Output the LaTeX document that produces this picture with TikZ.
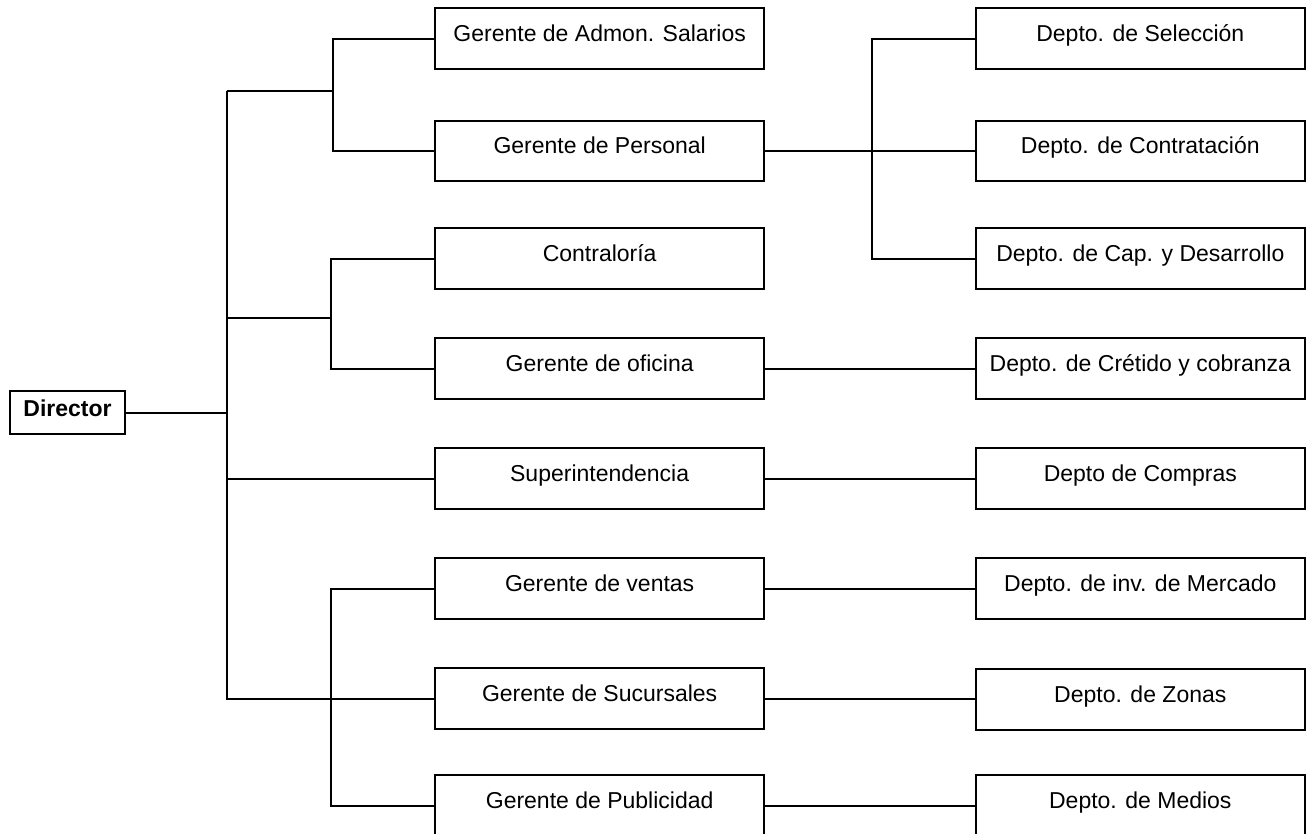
\documentclass[tikz,border=0pt]{standalone}
\usepackage{fontspec}
\setmainfont{Liberation Sans}
\begin{document}
\begin{tikzpicture}[x=1pt,y=-1pt,
  unit/.style={draw, line width=1.8pt, minimum width=328.7pt, minimum height=60.7pt,
    inner sep=0pt, outer sep=0pt, align=center, text height=17pt, text depth=11pt,
    font=\fontsize{23}{28}\selectfont},
  head/.style={draw, line width=1.8pt, minimum width=115pt, minimum height=43.3pt,
    inner sep=0pt, outer sep=0pt, text height=17pt, text depth=9pt,
    font=\fontsize{23}{28}\selectfont\bfseries},
  link/.style={line width=1.8pt}]
\useasboundingbox (0,0) rectangle (1313,834);

% head of the organisation
\node[head] (dir) at (67.5,412.7) {Director};

% managers
\node[unit] (adm) at (599.65,38.7)  {Gerente de Admon. Salarios};
\node[unit] (per) at (599.65,151)   {Gerente de Personal};
\node[unit] (con) at (599.65,258.7) {Contraloría};
\node[unit] (ofi) at (599.65,368.7) {Gerente de oficina};
\node[unit] (sup) at (599.65,478.7) {Superintendencia};
\node[unit] (ven) at (599.65,588.7) {Gerente de ventas};
\node[unit] (suc) at (599.65,698.7) {Gerente de Sucursales};
\node[unit] (pub) at (599.65,805.7) {Gerente de Publicidad};

% departments
\node[unit] (sel) at (1140.3,38.7)  {Depto. de Selección};
\node[unit] (ctr) at (1140.3,151)   {Depto. de Contratación};
\node[unit] (cap) at (1140.3,258.7) {Depto. de Cap. y Desarrollo};
\node[unit] (cre) at (1140.3,368.7) {Depto. de Crétido y cobranza};
\node[unit] (com) at (1140.3,478.7) {Depto de Compras};
\node[unit] (mer) at (1140.3,588.7) {Depto. de inv. de Mercado};
\node[unit] (zon) at (1140.3,699.7) {Depto. de Zonas};
\node[unit] (med) at (1140.3,805.7) {Depto. de Medios};

% trunk and branch points
\coordinate (tTop) at (226.7,90.7);
\coordinate (s1) at (332.7,90.7);
\coordinate (s2) at (331,318.3);
\coordinate (s4) at (872.3,0);

% director to the trunk
\draw[link] (dir.east) -- (dir.east -| tTop);
\draw[link] (tTop) -- (suc.west -| tTop) -- (suc.west);

% first group
\draw[link] (tTop) -- (s1);
\draw[link] (adm.west) -- (adm.west -| s1) -- (per.west -| s1) -- (per.west);

% second group
\draw[link] (s2 -| tTop) -- (s2);
\draw[link] (con.west) -- (con.west -| s2) -- (ofi.west -| s2) -- (ofi.west);

% superintendence
\draw[link] (sup.west -| tTop) -- (sup.west);

% sales group
\draw[link] (ven.west) -- (ven.west -| s2) -- (pub.west -| s2) -- (pub.west);

% personnel departments
\draw[link] (per.east) -- (ctr.west);
\draw[link] (sel.west) -- (sel.west -| s4) -- (cap.west -| s4) -- (cap.west);

% single departments
\draw[link] (ofi.east) -- (cre.west);
\draw[link] (sup.east) -- (com.west);
\draw[link] (ven.east) -- (mer.west);
\draw[link] (suc.east) -- (suc.east -| zon.west);
\draw[link] (pub.east) -- (med.west);
\end{tikzpicture}
\end{document}
